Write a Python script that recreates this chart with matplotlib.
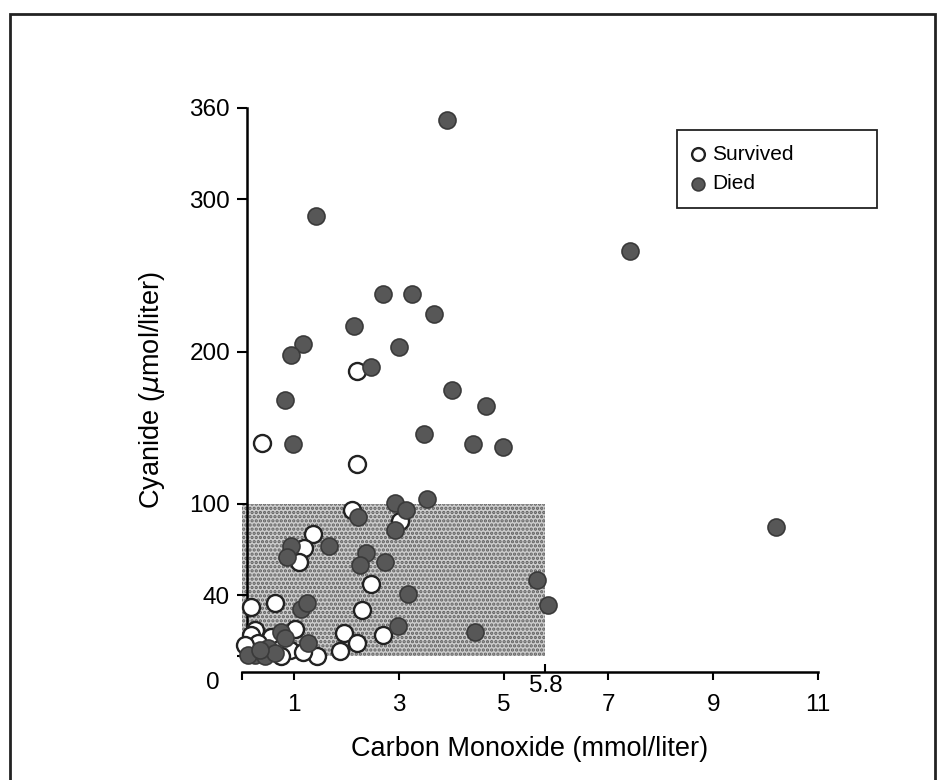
import numpy as np
import matplotlib
matplotlib.use("Agg")
import matplotlib.pyplot as plt
from matplotlib.patches import Rectangle

plt.rcParams['font.family'] = ['Liberation Sans', 'DejaVu Sans']
plt.rcParams['hatch.linewidth'] = 1.6

# survived patients (open circles): carbon monoxide, cyanide
survived_co = [2.2, 0.39, 2.2, 2.11, 3.02, 1.36, 1.19, 1.1, 2.47, 0.18, 0.64, 2.3,
               1.96, 2.7, 2.2, 1.88, 1.44, 1.02, 0.26, 0.18, 0.56, 0.31, 0.75, 0.93,
               1.17, 0.75, 0.07]
survived_cn = [187, 140, 126, 96, 89, 80, 71, 62, 47, 32, 35, 30,
               15, 14, 8.5, 3, 0, 18, 17, 14, 12.5, 8.5, 5, 4,
               2.6, 0, 7]

# died patients (filled circles)
died_co = [3.93, 1.42, 7.42, 2.70, 3.25, 3.67, 2.15, 1.17, 0.95, 3.0, 2.47, 0.83,
           4.02, 4.67, 3.49, 0.98, 4.41, 4.99, 10.2, 3.54, 2.93, 3.14, 2.22, 2.93,
           0.94, 0.86, 1.67, 2.38, 2.26, 2.74, 3.18, 5.64, 5.85, 1.14, 1.25, 2.99,
           4.46, 0.75, 0.83, 1.27, 0.51, 0.26, 0.12, 0.45, 0.64, 0.35]
died_cn = [352, 289, 266, 238, 238, 225, 217, 205, 198, 203, 190, 168,
           175, 164, 146, 139, 139, 137, 85, 103, 100.5, 96, 91, 83,
           72, 65, 72, 68, 60, 62, 41, 50, 33.5, 31, 35, 20,
           16, 16, 12, 8.5, 5, 0.7, 0.7, 0, 2, 4]

# toxic thresholds (shaded zone)
co_limit = 5.8
cn_limit = 100

y_ticks = [0, 40, 100, 200, 300, 360]
y_labels = ['', '40', '100', '200', '300', '360']
x_ticks = [0, 1, 3, 5, 7, 9, 11]
x_labels = ['', '1', '3', '5', '7', '9', '11']

fig = plt.figure(figsize=(9.47, 7.8), dpi=100)
ax = fig.add_axes([241.5/947, 1-672/780, (818-241.5)/947, (672-108)/780])

ax.fill_between([0, co_limit], 0, cn_limit, facecolor='#cdcdcd', edgecolor='#5e5e5e',
                hatch='....', linewidth=0, zorder=1)

ax.scatter(survived_co, survived_cn, s=150, facecolors='white', edgecolors='#222222',
           linewidths=1.7, zorder=3, clip_on=False, label='Survived')
ax.scatter(died_co, died_cn, s=150, facecolors='#575757', edgecolors='#3a3a3a',
           linewidths=1.2, zorder=4, clip_on=False, label='Died')

ax.set_xlim(0, 11)
ax.set_ylim(-10.5, 360)

for s in ['top', 'right']:
    ax.spines[s].set_visible(False)
ax.spines['left'].set_position(('data', 0.1))
ax.spines['left'].set_bounds(-4, 360)
ax.spines['bottom'].set_bounds(0, 11)
ax.spines['left'].set_linewidth(1.8)
ax.spines['bottom'].set_linewidth(1.8)

ax.set_yticks(y_ticks)
ax.set_yticklabels(y_labels)
ax.set_xticks(x_ticks)
ax.set_xticklabels(x_labels)
ax.set_xticks([co_limit], minor=True)
ax.set_xticklabels(['5.8'], minor=True)
ax.tick_params(axis='y', direction='out', length=7, width=1.5, pad=5, labelsize=17.5)
ax.tick_params(axis='x', which='major', direction='out', length=6, width=1.5, pad=10, labelsize=17.5)
ax.tick_params(axis='x', which='minor', direction='in', length=6, width=1.5, pad=2, labelsize=17.5)

fig.text(213/947, 1-683/780, '0', fontsize=17.5, ha='center', va='center')

ax.set_xlabel('Carbon Monoxide (mmol/liter)', fontsize=19.5, labelpad=14)
ax.set_ylabel(r'Cyanide ($\mu$mol/liter)', fontsize=19.5, labelpad=16)

leg = ax.legend(loc='upper left', bbox_to_anchor=(0.7554, 0.824, 0.347, 0.137),
                mode='expand', borderaxespad=0, fontsize=15, markerscale=0.75,
                handlelength=0.6, handletextpad=0.4, borderpad=0.7, labelspacing=0.5,
                fancybox=False, edgecolor='#222222', framealpha=1)
leg.get_frame().set_linewidth(1.3)

fig.add_artist(Rectangle((10/947, -0.02), 925/947, 1-14/780+0.02, transform=fig.transFigure,
                         fill=False, edgecolor='#222222', linewidth=2))

fig.savefig('out.png', dpi=100)
